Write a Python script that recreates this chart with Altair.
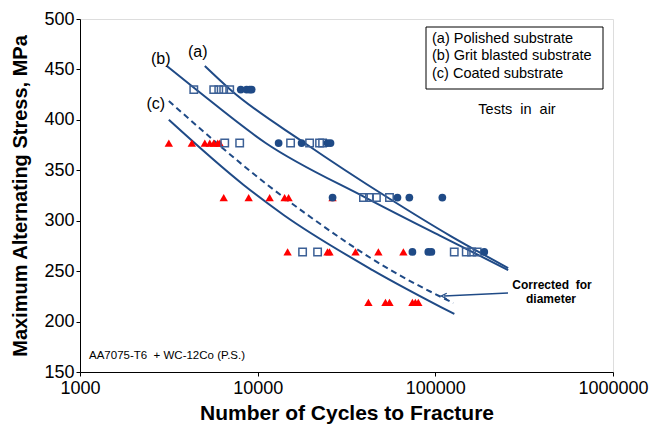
import altair as alt
import pandas as pd

# ---- data ----
# (a) Polished substrate  -> filled circles
polished_cycles = [8030, 8670, 9020, 9250,
                   13120, 17670, 24730, 25700,
                   26400, 61200, 71400, 109500,
                   74300, 91300, 95000, 188500]
polished_stress = [430, 430, 430, 430,
                   377, 377, 377, 377,
                   323, 323, 323, 323,
                   269, 269, 269, 269]

# (b) Grit blasted substrate -> open squares
grit_cycles = [4370, 5660, 6040, 6440, 6960,
               6525, 7920, 15320, 19600, 22300, 23200,
               39400, 42600, 46600, 55200,
               17900, 21740, 127800, 149300, 160000, 172000]
grit_stress = [430, 430, 430, 430, 430,
               377, 377, 377, 377, 377, 377,
               323, 323, 323, 323,
               269, 269, 269, 269, 269, 269]

# (c) Coated substrate -> red triangles
coated_cycles = [3162, 4260, 5040, 5375, 5660, 5960, 6120,
                 6440, 8900, 11680, 14180, 14930, 26400,
                 14740, 24730, 25370, 35550, 47800, 66100,
                 42000, 52400, 55200, 74300, 77200, 80200]
coated_stress = [377, 377, 377, 377, 377, 377, 377,
                 323, 323, 323, 323, 323, 323,
                 269, 269, 269, 269, 269, 269,
                 219, 219, 219, 219, 219, 219]

# fitted curves
curve_a_cycles = [5040, 7050, 18370, 54450, 121400, 257000]
curve_a_stress = [453.4, 429.6, 377.1, 322.5, 285.0, 253.1]
curve_b_cycles = [3082, 4540, 11090, 40960, 106700, 257000]
curve_b_stress = [453.4, 429.6, 377.1, 322.5, 285.0, 251.1]
curve_c_cycles = [3162, 8340, 14000, 44300, 127900]
curve_c_stress = [400.0, 335.4, 305.7, 251.1, 207.5]
curve_cd_cycles = [3162, 11380, 19100, 55900, 126200]
curve_cd_stress = [418.7, 335.4, 305.7, 251.1, 218.4]

curve_labels = ["(a)", "(b)", "(c)"]
curve_label_cycles = [4600, 2850, 2670]
curve_label_stress = [467, 460, 416]

legend_lines = ["(a) Polished substrate", "(b) Grit blasted substrate", "(c) Coated substrate"]
x_ticks = [1000, 10000, 100000, 1000000]
y_ticks = [150, 200, 250, 300, 350, 400, 450, 500]

NAVY = "#1F4A86"
FONT = "Liberation Sans"
W, H = 533, 353
NB = "\u00a0"

xs = alt.Scale(type="log", domain=[1000, 1000000], nice=False)
ys = alt.Scale(domain=[150, 500], nice=False, zero=False)

xenc = alt.X("N:Q", scale=xs,
             axis=alt.Axis(values=x_ticks, format="d", title="Number of Cycles to Fracture",
                           labelFontSize=18, labelFont=FONT, labelColor="black",
                           titleFont=FONT, titleFontSize=21, titleFontWeight="bold",
                           titleColor="black", titlePadding=5, labelPadding=3,
                           tickSize=4, tickColor="black", domainColor="black",
                           grid=False, labelFlush=False, labelOverlap=False))
yenc = alt.Y("S:Q", scale=ys,
             axis=alt.Axis(values=y_ticks, title="Maximum Alternating Stress, MPa",
                           labelFontSize=18, labelFont=FONT, labelColor="black",
                           titleFont=FONT, titleFontSize=20, titleFontWeight="bold",
                           titleColor="black", titlePadding=13, labelPadding=2,
                           tickSize=4, tickColor="black", domainColor="black",
                           grid=False, labelFlush=False, labelOverlap=False))

df_p = pd.DataFrame({"N": polished_cycles, "S": polished_stress})
df_g = pd.DataFrame({"N": grit_cycles, "S": grit_stress})
df_c = pd.DataFrame({"N": coated_cycles, "S": coated_stress})


def curve_df(c, s, name):
    return pd.DataFrame({"N": c, "S": s, "curve": name, "i": list(range(len(c)))})


df_solid = pd.concat([curve_df(curve_a_cycles, curve_a_stress, "a"),
                      curve_df(curve_b_cycles, curve_b_stress, "b"),
                      curve_df(curve_c_cycles, curve_c_stress, "c")])
df_dash = curve_df(curve_cd_cycles, curve_cd_stress, "cd")

solid = alt.Chart(df_solid).mark_line(color=NAVY, strokeWidth=2, interpolate="monotone").encode(
    x=xenc, y=yenc, detail="curve:N", order="i:Q")
dashed = alt.Chart(df_dash).mark_line(color=NAVY, strokeWidth=2, strokeDash=[6, 4],
                                      interpolate="monotone").encode(x=xenc, y=yenc, order="i:Q")

pts_c = alt.Chart(df_c).mark_point(shape="triangle-up", filled=True, color="#FF0000",
                                   size=70, opacity=1).encode(x=xenc, y=yenc)
pts_g = alt.Chart(df_g).mark_point(shape="square", filled=False, color="#3C6096",
                                   size=55, strokeWidth=1.5, opacity=1).encode(x=xenc, y=yenc)
pts_p = alt.Chart(df_p).mark_point(shape="circle", filled=True, color=NAVY,
                                   size=60, opacity=1).encode(x=xenc, y=yenc)

df_lab = pd.DataFrame({"N": curve_label_cycles, "S": curve_label_stress, "t": curve_labels})
labels = alt.Chart(df_lab).mark_text(font=FONT, fontSize=16, color="black").encode(
    x=xenc, y=yenc, text="t:N")

# legend box and annotations (pixel positions relative to the plot area)
anno = alt.Chart(pd.DataFrame({"k": [0]}))
box = anno.mark_rect(fill="white", stroke="black", strokeWidth=1).encode(
    x=alt.value(346), x2=alt.value(523), y=alt.value(8), y2=alt.value(70))
leg_rows = [anno.mark_text(font=FONT, fontSize=14.5, color="black", align="left",
                           baseline="middle", text=t).encode(x=alt.value(352), y=alt.value(yy))
            for t, yy in zip(legend_lines, [19.5, 36.5, 54.5])]

tests = anno.mark_text(font=FONT, fontSize=14.5, color="black", baseline="middle",
                       text=f"Tests{NB} in{NB} air").encode(x=alt.value(437), y=alt.value(91))
corr1 = anno.mark_text(font=FONT, fontSize=12, fontWeight="bold", color="black", baseline="middle",
                       text=f"Corrected{NB} for").encode(x=alt.value(472), y=alt.value(266))
corr2 = anno.mark_text(font=FONT, fontSize=12, fontWeight="bold", color="black", baseline="middle",
                       text="diameter").encode(x=alt.value(471), y=alt.value(280))
arrow = anno.mark_rule(color=NAVY, strokeWidth=1.3).encode(
    x=alt.value(428), x2=alt.value(364), y=alt.value(274), y2=alt.value(277))
head = anno.mark_point(shape="M1,-1L-1,0L1,1", filled=False, color=NAVY, size=30,
                       strokeWidth=1.3, opacity=1).encode(x=alt.value(364), y=alt.value(277))
alloy = anno.mark_text(font=FONT, fontSize=11.5, color="black", align="left", baseline="middle",
                       text=f"AA7075-T6{NB} + WC-12Co (P.S.)").encode(x=alt.value(9), y=alt.value(337))

chart = alt.layer(solid, dashed, pts_c, pts_g, pts_p, labels, box, *leg_rows, tests,
                  corr1, corr2, arrow, head, alloy).properties(
    width=W, height=H,
    autosize=alt.AutoSizeParams(type="none"),
    padding={"left": 80, "top": 19, "right": 40, "bottom": 53},
).configure_view(stroke="black", strokeWidth=1).configure(background="white")

chart.save("out.html", embed_options={"renderer": "svg", "actions": False})
